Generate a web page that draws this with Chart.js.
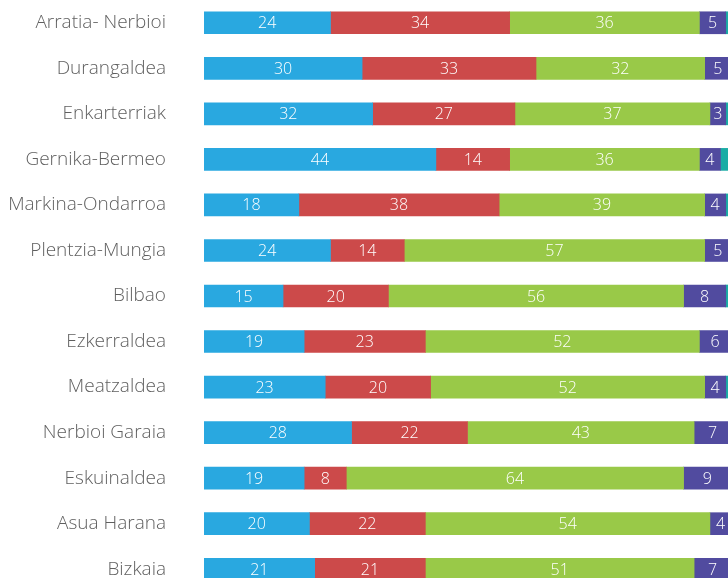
<!DOCTYPE html>
<html>
<head>
<meta charset="utf-8">
<script src="https://cdn.jsdelivr.net/npm/chart.js@4"></script>
<style>
  html, body { margin: 0; padding: 0; background: #fff; }
  #wrap { width: 728px; height: 578px; overflow: hidden; }
</style>
</head>
<body>
<div id="wrap"><canvas id="barchart" width="731" height="592"></canvas></div>
<script>
var regions = ["Arratia- Nerbioi", "Durangaldea", "Enkarterriak", "Gernika-Bermeo", "Markina-Ondarroa",
    "Plentzia-Mungia", "Bilbao", "Ezkerraldea", "Meatzaldea", "Nerbioi Garaia", "Eskuinaldea",
    "Asua Harana", "Bizkaia"]
var blueData = [24, 30, 32, 44, 18, 24, 15, 19, 23, 28, 19, 20, 21]
var redData = [34, 33, 27, 14, 38, 14, 20, 23, 20, 22, 8, 22, 21]
var greenData = [36, 32, 37, 36, 39, 57, 56, 52, 52, 43, 64, 54, 51]
var purpleData = [5, 5, 3, 4, 4, 5, 8, 6, 4, 7, 9, 4, 7]
var tealData = [1, 0, 1, 2, 1, 0, 1, 0, 1, 0, 0, 0, 0]

var colors = ["#29a8e0", "#cc4a4a", "#99c948", "#514b9f", "#1aaca5"]

// white numbers in the middle of each segment (teal is never labelled)
var segmentLabels = {
    id: "segmentLabels",
    afterDatasetsDraw: function (chart) {
        var ctx = chart.ctx
        ctx.save()
        ctx.font = "300 16px 'Open Sans'"
        ctx.fillStyle = "#ffffff"
        ctx.textAlign = "center"
        ctx.textBaseline = "middle"
        chart.data.datasets.forEach(function (ds, i) {
            if (i == 4) return
            var meta = chart.getDatasetMeta(i)
            meta.data.forEach(function (bar, j) {
                var v = ds.data[j]
                if (!v) return
                var cx = (bar.x + bar.base) / 2
                ctx.fillText(String(v), cx, bar.y + 1)
            })
        })
        ctx.restore()
    }
}

function makeSet(data, idx) {
    return {
        data: data,
        backgroundColor: colors[idx],
        borderWidth: 0,
        barThickness: 22
    }
}

new Chart("barchart", {
    type: "bar",
    data: {
        labels: regions,
        datasets: [
            makeSet(blueData, 0),
            makeSet(redData, 1),
            makeSet(greenData, 2),
            makeSet(purpleData, 3),
            makeSet(tealData, 4)
        ]
    },
    options: {
        indexAxis: "y",
        responsive: false,
        animation: false,
        layout: { padding: 0 },
        plugins: {
            legend: { display: false },
            tooltip: { enabled: false }
        },
        scales: {
            x: {
                stacked: true,
                display: false,
                min: 0,
                max: 100
            },
            y: {
                stacked: true,
                border: { display: false },
                grid: { display: false, drawTicks: false },
                ticks: {
                    padding: 38,
                    color: "#5f5f5f",
                    font: { family: "'Open Sans'", size: 19, weight: 300 }
                },
                afterFit: function (scale) {
                    scale.width = 204
                    scale.paddingTop = 0
                    scale.paddingBottom = 0
                }
            }
        }
    },
    plugins: [segmentLabels]
})
</script>
</body>
</html>
